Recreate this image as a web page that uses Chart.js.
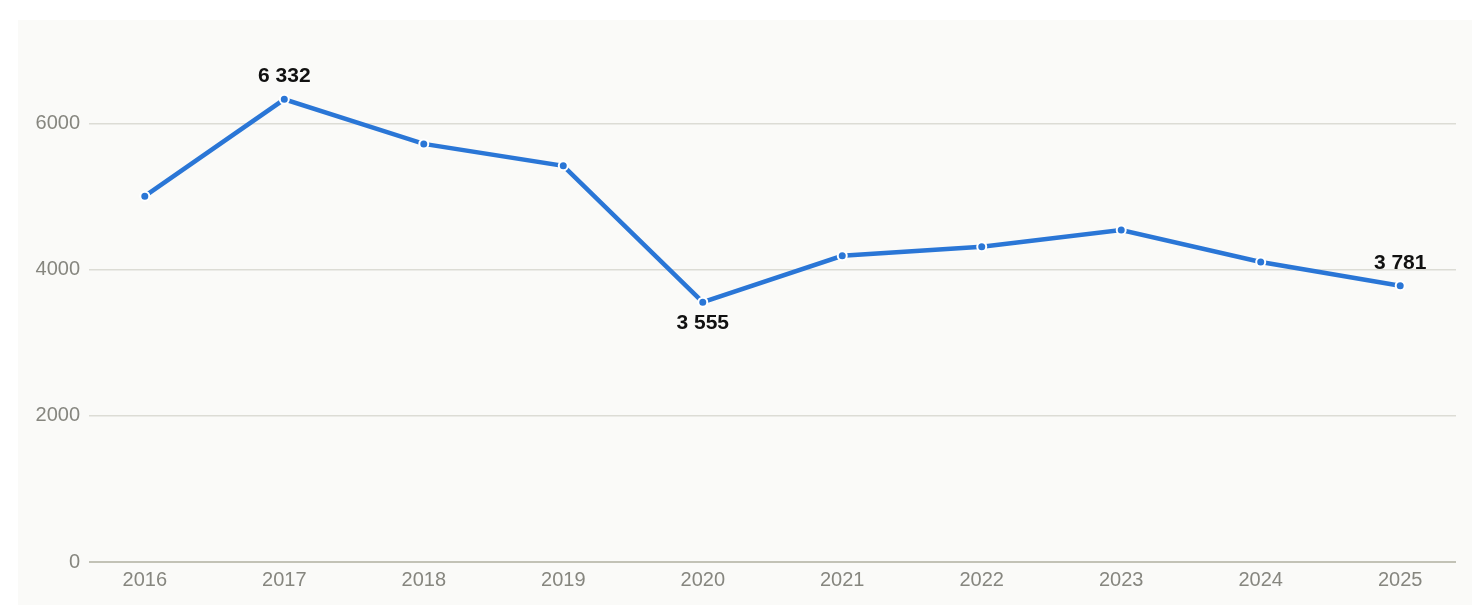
<!DOCTYPE html>
<html>
<head>
<meta charset="utf-8">
<script src="https://cdn.jsdelivr.net/npm/chart.js@4.4.1/dist/chart.umd.min.js"></script>
<style>
  html, body { margin: 0; padding: 0; background: #ffffff; }
  .panel {
    position: absolute; left: 18px; top: 20px;
    width: 1454px; height: 585px;
    background: #fafaf8;
  }
</style>
</head>
<body>
<div class="panel"><canvas id="myChart" width="1454" height="585"></canvas></div>
<script>
const years = [2016, 2017, 2018, 2019, 2020, 2021, 2022, 2023, 2024, 2025];
const values = [5007, 6332, 5722, 5422, 3555, 4191, 4315, 4543, 4105, 3781];
const yTicks = [0, 2000, 4000, 6000];
// which points get a label, and on which side
const labelled = { 2017: "above", 2020: "below", 2025: "above" };

const fmt = v => String(v).replace(/\B(?=(\d{3})+(?!\d))/g, " ");

const pointLabels = {
  id: "pointLabels",
  afterDatasetsDraw(chart) {
    const ctx = chart.ctx;
    const meta = chart.getDatasetMeta(0);
    ctx.save();
    ctx.font = "bold 21px 'Liberation Sans', Arial, sans-serif";
    ctx.fillStyle = "#111111";
    ctx.textAlign = "center";
    ctx.textBaseline = "middle";
    meta.data.forEach((pt, i) => {
      const side = labelled[years[i]];
      if (!side) return;
      const dy = side === "above" ? -23 : 21;
      ctx.fillText(fmt(values[i]), pt.x, pt.y + dy);
    });
    ctx.restore();
  }
};

const ctx = document.getElementById("myChart");
new Chart(ctx, {
  type: "line",
  data: {
    datasets: [{
      data: years.map((y, i) => ({ x: y, y: values[i] })),
      borderColor: "#2a76d6",
      borderWidth: 4.5,
      pointBackgroundColor: "#2a76d6",
      pointBorderColor: "#ffffff",
      pointBorderWidth: 2,
      pointRadius: 4.5,
      tension: 0
    }]
  },
  options: {
    responsive: false,
    animation: false,
    layout: { padding: { top: 1, right: 16, bottom: 0, left: 0 } },
    plugins: { legend: { display: false }, tooltip: { enabled: false } },
    scales: {
      x: {
        type: "linear",
        min: 2015.6,
        max: 2025.4,
        afterBuildTicks: s => { s.ticks = years.map(v => ({ value: v })); },
        afterFit: s => { s.height = 43; },
        grid: { display: false, drawTicks: false },
        border: { display: false },
        ticks: {
          padding: 6,
          color: "#86867f",
          font: { family: "'Liberation Sans', Arial, sans-serif", size: 20 },
          callback: v => String(v),
          maxRotation: 0
        }
      },
      y: {
        min: 0,
        max: 7130,
        afterBuildTicks: s => { s.ticks = yTicks.map(v => ({ value: v })); },
        afterFit: s => { s.width = 71; },
        grid: {
          drawTicks: false,
          color: c => c.tick && c.tick.value === 0 ? "#c2c2b6" : "#dcdcd5",
          lineWidth: c => c.tick && c.tick.value === 0 ? 2 : 1.5
        },
        border: { display: false },
        ticks: {
          padding: 9,
          color: "#86867f",
          font: { family: "'Liberation Sans', Arial, sans-serif", size: 20 },
          callback: v => String(v)
        }
      }
    }
  },
  plugins: [pointLabels]
});
</script>
</body>
</html>
